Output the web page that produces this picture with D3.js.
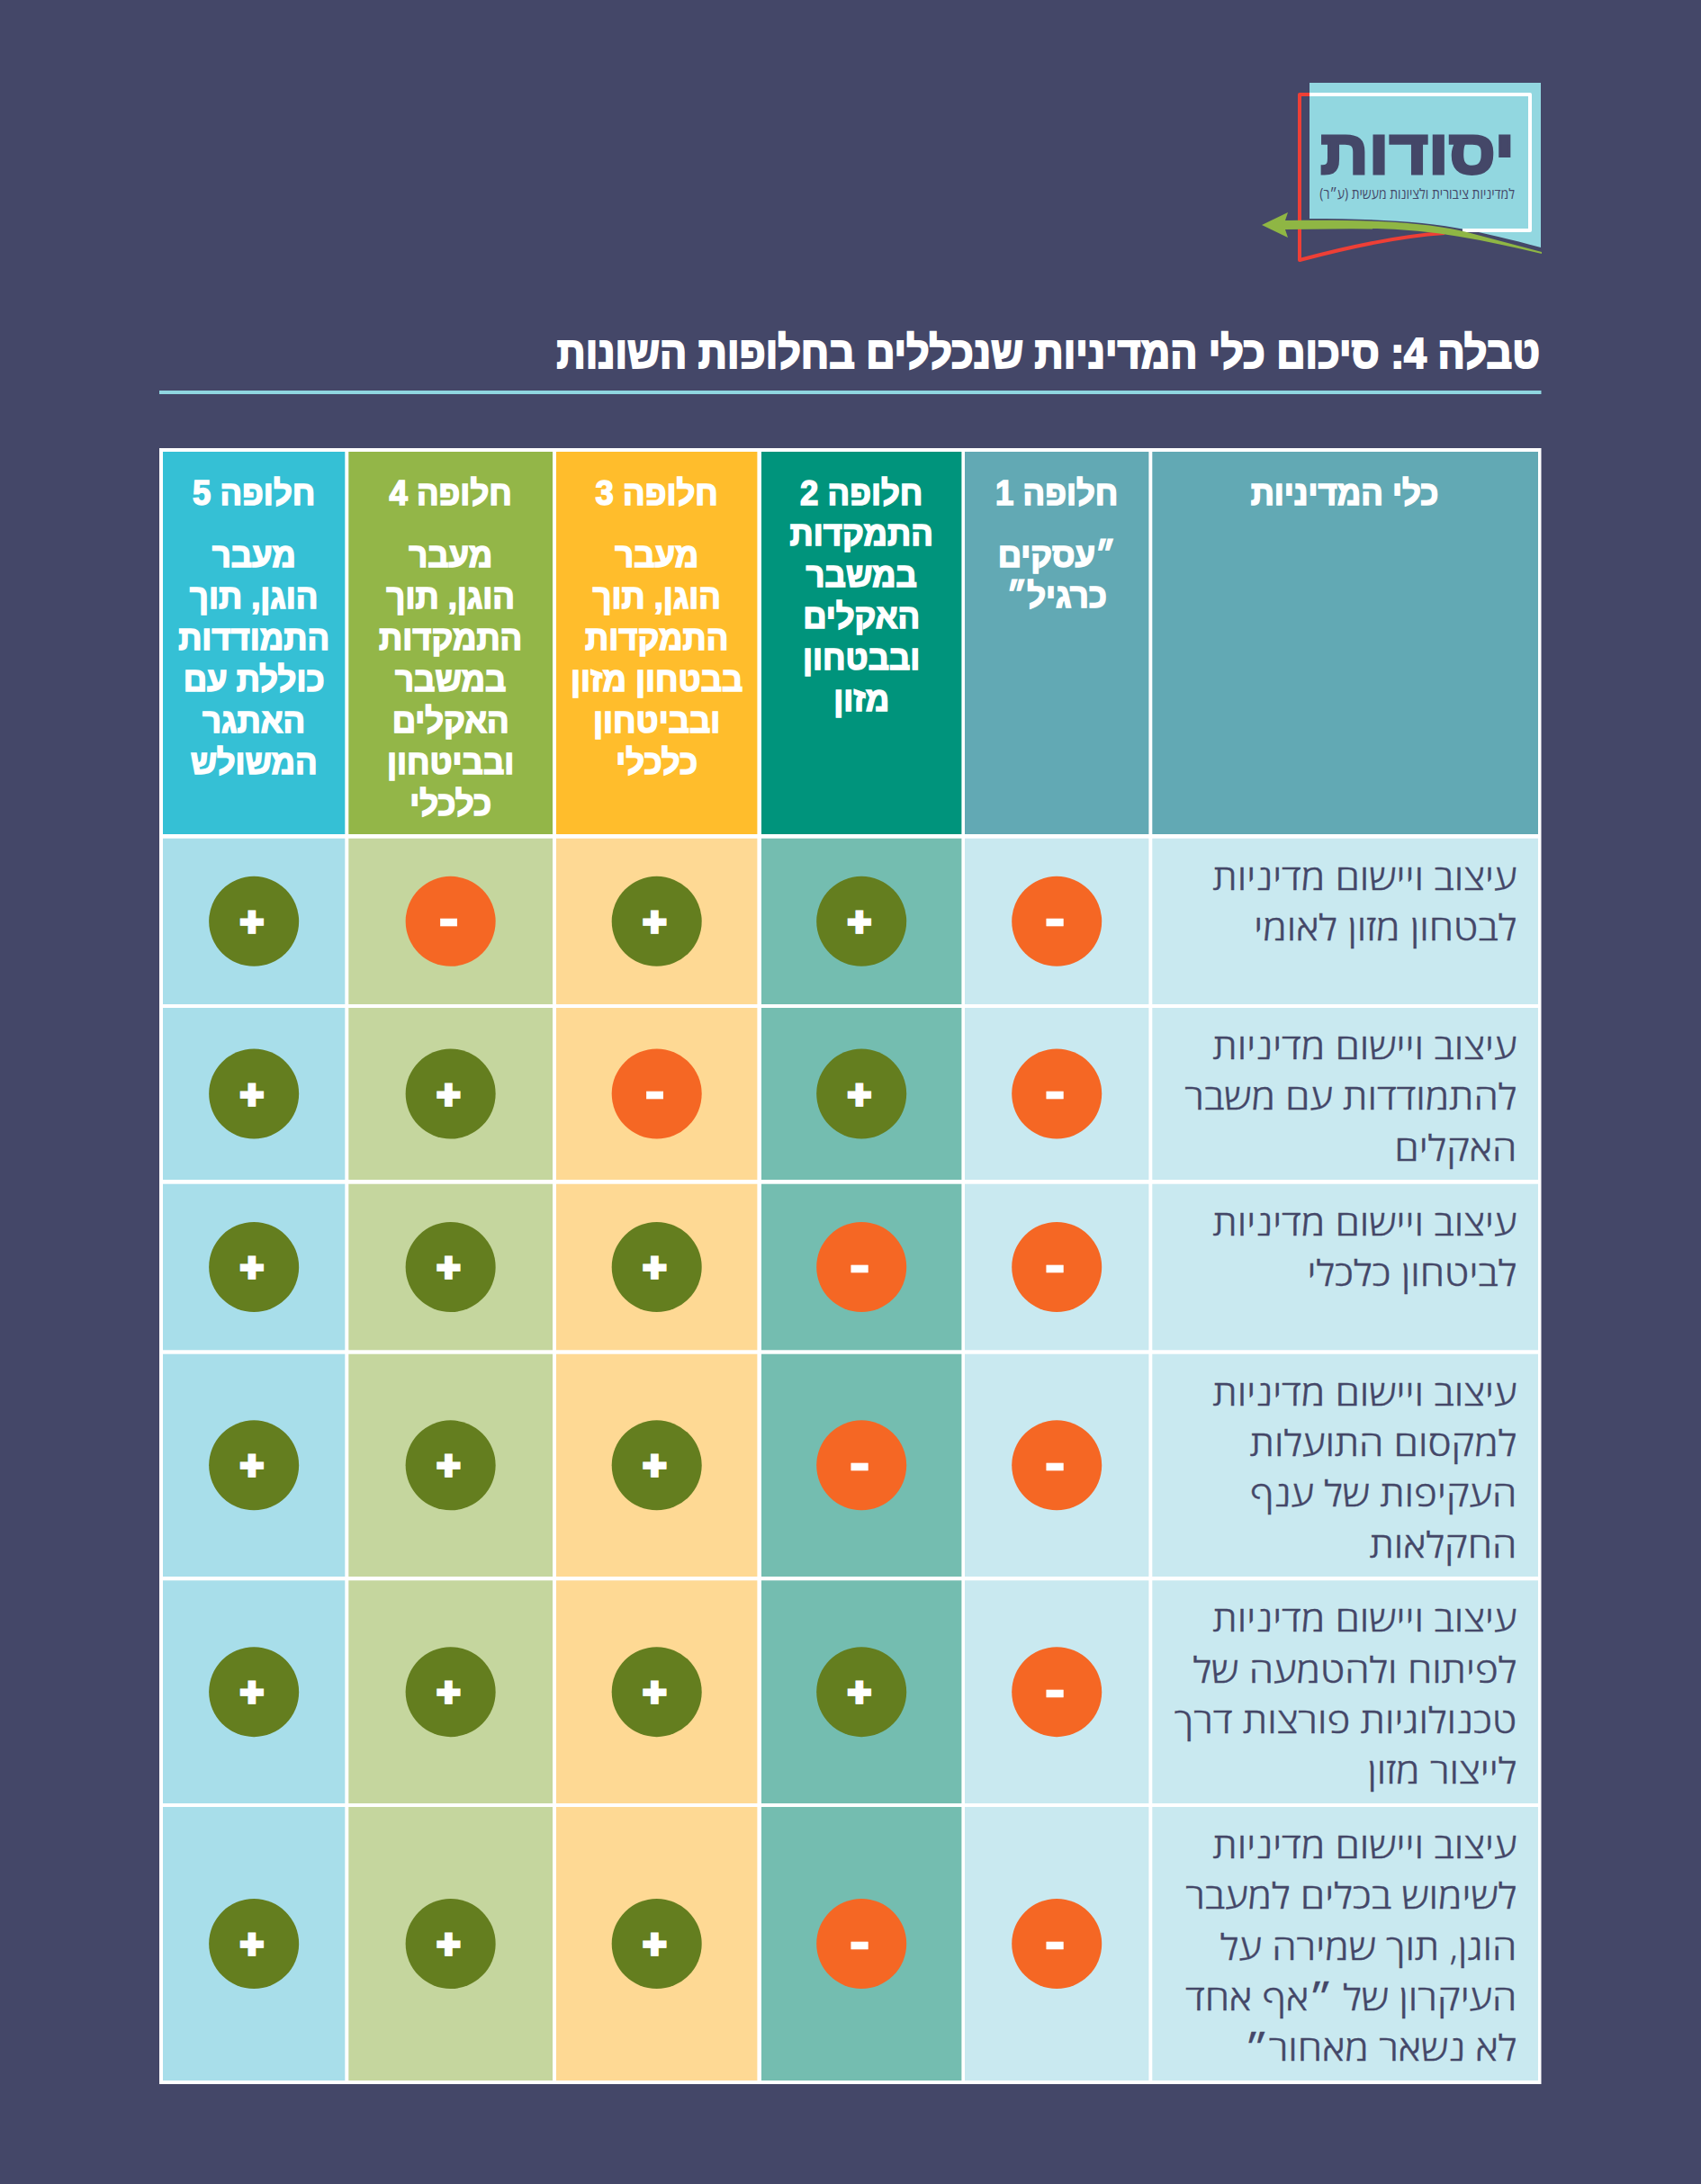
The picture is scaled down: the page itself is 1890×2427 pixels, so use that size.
<!DOCTYPE html>
<html lang="he"><head><meta charset="utf-8">
<script src="https://cdn.jsdelivr.net/npm/d3@7"></script>
<style>html,body{margin:0;padding:0;background:#444768}svg{display:block}</style>
</head><body><div id="c"></div>
<script>
// ---- data ----
const titleText = "טבלה 4: סיכום כלי המדיניות שנכללים בחלופות השונות";
const toolsHeader = "כלי המדיניות";
const alternatives = ["חלופה 1","חלופה 2","חלופה 3","חלופה 4","חלופה 5"];
const altDescriptions = [
  ["״עסקים","כרגיל״"],
  ["התמקדות","במשבר","האקלים","ובבטחון","מזון"],
  ["מעבר","הוגן, תוך","התמקדות","בבטחון מזון","ובביטחון","כלכלי"],
  ["מעבר","הוגן, תוך","התמקדות","במשבר","האקלים","ובביטחון","כלכלי"],
  ["מעבר","הוגן, תוך","התמודדות","כוללת עם","האתגר","המשולש"]
];
const policyTools = [
  ["עיצוב ויישום מדיניות","לבטחון מזון לאומי"],
  ["עיצוב ויישום מדיניות","להתמודדות עם משבר","האקלים"],
  ["עיצוב ויישום מדיניות","לביטחון כלכלי"],
  ["עיצוב ויישום מדיניות","למקסום התועלות","העקיפות של ענף","החקלאות"],
  ["עיצוב ויישום מדיניות","לפיתוח ולהטמעה של","טכנולוגיות פורצות דרך","לייצור מזון"],
  ["עיצוב ויישום מדיניות","לשימוש בכלים למעבר","הוגן, תוך שמירה על","העיקרון של ״אף אחד","לא נשאר מאחור״"]
];
const alt1Signs = ["-","-","-","-","-","-"];
const alt2Signs = ["+","+","-","-","+","-"];
const alt3Signs = ["+","-","+","+","+","+"];
const alt4Signs = ["-","+","+","+","+","+"];
const alt5Signs = ["+","+","+","+","+","+"];
const logoName = "יסודות";
const logoTagline = "למדיניות ציבורית ולציונות מעשית (ע״ר)";

// ---- palette and layout ----
const headColors = ["#62a9b4","#00947c","#ffbd2c","#93b648","#35c0d5"];
const bodyColors = ["#c9e9f0","#74bdb0","#fed994","#c5d69e","#a8deea"];
const labelHead = "#62a9b4", labelBody = "#c9e9f0";
const BG="#444768", PLUS="#647e1f", MINUS="#f56724";
const colLefts  = [1072,846,618,387.3,181];
const colRights = [1276.4,1068.4,841.4,614,383.3];
const descStart = [629.5,606.3,630.4,630.4,630.4];
const rowTops = [931.7,1120,1315.7,1504.7,1756.3,2008];
const rowBots = [1116,1311,1500.3,1752,2004,2312];

const HEAD="'Liberation Sans',Arial,sans-serif", BODY="'Open Sans',sans-serif";
const svg=d3.select("#c").append("svg").attr("width",1890).attr("height",2427).attr("viewBox","0 0 1890 2427");
svg.append("rect").attr("width",1890).attr("height",2427).attr("fill",BG);

const idx=d3.range(5), rows=d3.range(6);
const xCenter=d3.scaleOrdinal(idx,idx.map(i=>(colLefts[i]+colRights[i])/2));
const yCenter=d3.scaleOrdinal(rows,rows.map(i=>(rowTops[i]+rowBots[i])/2));

function txt(g,s,x,y,o){
  return g.append("text").attr("transform",`translate(${x},${y}) scale(${o.sx||1},1)`)
   .attr("direction","rtl").attr("text-anchor",o.anchor||"start")
   .attr("font-family",o.font).attr("font-weight",o.weight).attr("font-size",o.size)
   .attr("fill",o.fill).attr("stroke",o.stroke||"none").attr("stroke-width",o.sw||0).text(s);
}

// logo
const logo=svg.append("g");
logo.append("path").attr("fill","#92d7e0")
 .attr("d","M1455,92 L1712,92 L1712,275 C1660,261 1620,252 1580,248 C1540,244 1500,243 1455,243 Z");
logo.append("path").attr("fill","none").attr("stroke","#ffffff").attr("stroke-width",4).attr("stroke-linejoin","round")
 .attr("d","M1455,105 L1700,105 L1700,256 L1625,256");
logo.append("path").attr("fill","none").attr("stroke","#ee3f36").attr("stroke-width",4).attr("stroke-linejoin","round")
 .attr("d","M1455,105 L1444,105 L1444,289 C1500,274 1560,262 1605,259");
logo.append("path").attr("fill","#8fb644")
 .attr("d","M1402,250 L1431,236 L1428,245 C1500,244 1580,245 1630,258 L1713,280 L1713,282 C1650,267 1590,255 1530,254 L1428,255 L1431,264 Z");
txt(logo,logoName,1683,193,{font:HEAD,weight:700,size:70,fill:BG,sx:1.07,stroke:BG,sw:3});
txt(logo,logoTagline,1683,220.5,{font:BODY,weight:400,size:16,fill:BG,sx:.87});

// title
txt(svg,titleText,1711,409,{font:HEAD,weight:700,size:49,fill:"#fff",sx:.914,stroke:"#fff",sw:2});
svg.append("rect").attr("x",177).attr("y",434).attr("width",1535.5).attr("height",4).attr("fill","#8fd6e0");

// table
svg.append("rect").attr("x",177).attr("y",498).attr("width",1535.5).attr("height",1818).attr("fill","#fff");
const HT=502,HB=927;
const headStyle={font:HEAD,weight:700,size:38,fill:"#fff",anchor:"middle",sx:.96,stroke:"#fff",sw:1.6};
svg.append("rect").attr("x",1280.3).attr("y",HT).attr("width",428.7).attr("height",HB-HT).attr("fill",labelHead);
txt(svg,toolsHeader,1494,560.5,headStyle);
idx.forEach(i=>{
  svg.append("rect").attr("x",colLefts[i]).attr("y",HT).attr("width",colRights[i]-colLefts[i]).attr("height",HB-HT).attr("fill",headColors[i]);
  txt(svg,alternatives[i],xCenter(i),560.5,headStyle);
  altDescriptions[i].forEach((l,k)=>txt(svg,l,xCenter(i),descStart[i]+k*45.9,headStyle));
});
const signs=[alt1Signs,alt2Signs,alt3Signs,alt4Signs,alt5Signs];
rows.forEach(r=>{
  svg.append("rect").attr("x",1280.3).attr("y",rowTops[r]).attr("width",428.7).attr("height",rowBots[r]-rowTops[r]).attr("fill",labelBody);
  policyTools[r].forEach((l,k)=>txt(svg,l,1685.3,rowTops[r]+57+k*56.3,{font:BODY,weight:300,size:39,fill:BG,sx:1.13,stroke:BG,sw:.4}));
  idx.forEach(i=>{
    svg.append("rect").attr("x",colLefts[i]).attr("y",rowTops[r]).attr("width",colRights[i]-colLefts[i]).attr("height",rowBots[r]-rowTops[r]).attr("fill",bodyColors[i]);
    const s=signs[i][r], cx=xCenter(i), cy=yCenter(r);
    svg.append("circle").attr("cx",cx).attr("cy",cy).attr("r",50).attr("fill",s==="+"?PLUS:MINUS);
    svg.append("text").attr("x",cx-2.2).attr("y",cy+(s==="+"?15:17.5)).attr("text-anchor","middle")
      .attr("font-family","Inter,sans-serif").attr("font-weight",900).attr("font-size",s==="+"?48:54)
      .attr("fill","#fff").attr("stroke","#fff").attr("stroke-width",s==="+"?1:.5).text(s);
  });
});
</script></body></html>
